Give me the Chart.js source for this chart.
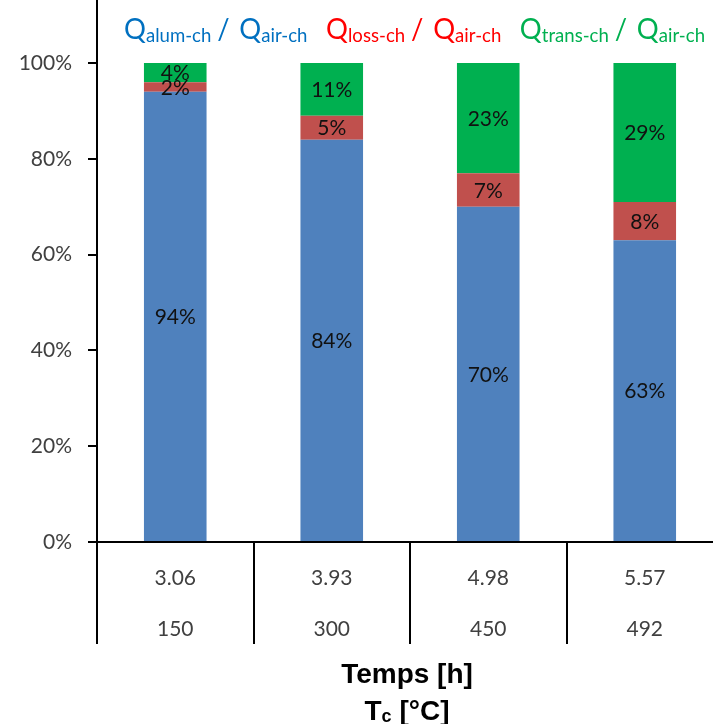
<!DOCTYPE html>
<html>
<head>
<meta charset="utf-8">
<script src="https://cdn.jsdelivr.net/npm/chart.js@4/dist/chart.umd.min.js"></script>
<style>
html, body { margin: 0; padding: 0; background: #fff; overflow: hidden; }
</style>
</head>
<body>
<!-- plot area runs a little past the right edge of the picture, as in the original -->
<canvas id="c" width="723" height="724"></canvas>
<script>
// categories (two label rows)
var tempsLabels = ['3.06', '3.93', '4.98', '5.57'];
var tcLabels = ['150', '300', '450', '492'];

// series, in %
var alumValues = [94, 84, 70, 63];
var lossValues = [2, 5, 7, 8];
var transValues = [4, 11, 23, 29];

var yTickValues = [0, 20, 40, 60, 80, 100];

var labelFont = 'Lato, "Noto Sans", sans-serif';
var titleFont = '"Liberation Sans", Arial, sans-serif';

// legend drawn by hand because of the subscripts
var legendItems = [
    {color: '#0070C0', sub: 'alum-ch'},
    {color: '#FF0000', sub: 'loss-ch'},
    {color: '#00B050', sub: 'trans-ch'}
];

var drawLegend = function(chart) {
    var ctx = chart.ctx;
    var bigFont = '28px ' + labelFont;
    var smallFont = '19px ' + labelFont;
    var parts = [];
    legendItems.forEach(function(item, i) {
        parts.push({t: 'Q', f: bigFont, c: item.color, dy: 0, gap: 0});
        parts.push({t: item.sub, f: smallFont, c: item.color, dy: 3, gap: 6});
        parts.push({t: '/', f: bigFont, c: item.color, dy: 0, gap: 10});
        parts.push({t: 'Q', f: bigFont, c: item.color, dy: 0, gap: 0});
        parts.push({t: 'air-ch', f: smallFont, c: item.color, dy: 3, gap: i < legendItems.length - 1 ? 19 : 0});
    });
    var total = 0;
    parts.forEach(function(p) {
        ctx.font = p.f;
        p.w = ctx.measureText(p.t).width;
        total += p.w + p.gap;
    });
    // squeeze to the width the legend takes in the original
    var left = 124, right = 705;
    var k = Math.min(1, (right - left) / total);
    var x = 0;
    ctx.save();
    ctx.translate((left + right) / 2 - total * k / 2, 39);
    ctx.scale(k, 1);
    ctx.textBaseline = 'alphabetic';
    ctx.textAlign = 'left';
    parts.forEach(function(p) {
        ctx.font = p.f;
        ctx.fillStyle = p.c;
        ctx.fillText(p.t, x, p.dy);
        x += p.w + p.gap;
    });
    ctx.restore();
};

var extrasPlugin = {
    id: 'extras',
    afterDatasetsDraw: function(chart) {
        var ctx = chart.ctx;
        // values inside the segments
        ctx.save();
        ctx.font = '21px ' + labelFont;
        ctx.fillStyle = '#111';
        ctx.textAlign = 'center';
        ctx.textBaseline = 'middle';
        chart.data.datasets.forEach(function(ds, di) {
            var meta = chart.getDatasetMeta(di);
            meta.data.forEach(function(bar, i) {
                var top = Math.min(bar.y, bar.base);
                var bottom = Math.max(bar.y, bar.base);
                ctx.fillText(ds.data[i] + '%', bar.x, (top + bottom) / 2 + 1);
            });
        });
        ctx.restore();
    },
    afterDraw: function(chart) {
        var ctx = chart.ctx;
        var area = chart.chartArea;
        var xs = chart.scales.x;
        ctx.save();
        ctx.strokeStyle = '#000';
        ctx.lineWidth = 2;
        // y axis line running up past 100% and down through the label rows
        ctx.beginPath();
        ctx.moveTo(area.left, 0);
        ctx.lineTo(area.left, area.bottom + 102);
        ctx.stroke();
        // separators between categories
        for (var i = 1; i < tempsLabels.length; i++) {
            var sx = Math.round((xs.getPixelForValue(i - 1) + xs.getPixelForValue(i)) / 2);
            ctx.beginPath();
            ctx.moveTo(sx, area.bottom);
            ctx.lineTo(sx, area.bottom + 102);
            ctx.stroke();
        }
        ctx.restore();

        // axis titles
        var cx = 407;
        ctx.save();
        ctx.fillStyle = '#000';
        ctx.textBaseline = 'alphabetic';
        ctx.textAlign = 'left';
        ctx.font = 'bold 28px ' + titleFont;
        var t1 = 'Temps [h]';
        var w1 = ctx.measureText(t1).width;
        ctx.fillText(t1, cx - w1 / 2, 683);
        var big = 'bold 28px ' + titleFont;
        var small = 'bold 18px ' + titleFont;
        ctx.font = big;
        var wT = ctx.measureText('T').width;
        var wRest = ctx.measureText(' [\u00B0C]').width;
        ctx.font = small;
        var wc = ctx.measureText('c').width;
        var x0 = cx - (wT + wc + wRest) / 2;
        ctx.font = big;
        ctx.fillText('T', x0, 720);
        ctx.font = small;
        ctx.fillText('c', x0 + wT, 722);
        ctx.font = big;
        ctx.fillText(' [\u00B0C]', x0 + wT + wc, 720);
        ctx.restore();

        drawLegend(chart);
    }
};

var categories = tempsLabels.map(function(t, i) { return [t, tcLabels[i]]; });

var chart = new Chart(document.getElementById('c'), {
    type: 'bar',
    data: {
        labels: categories,
        datasets: [
            {label: 'Qalum-ch / Qair-ch', data: alumValues, backgroundColor: '#4F81BD'},
            {label: 'Qloss-ch / Qair-ch', data: lossValues, backgroundColor: '#C0504D'},
            {label: 'Qtrans-ch / Qair-ch', data: transValues, backgroundColor: '#00B050'}
        ]
    },
    options: {
        responsive: false,
        animation: false,
        layout: {padding: {top: 63, bottom: 59, left: 0, right: 0}},
        datasets: {bar: {categoryPercentage: 1, barPercentage: 0.4}},
        plugins: {
            legend: {display: false},
            tooltip: {enabled: false}
        },
        scales: {
            x: {
                stacked: true,
                grid: {display: false, drawTicks: false},
                border: {display: true, color: '#000', width: 2},
                ticks: {
                    color: '#404040',
                    padding: 10,
                    maxRotation: 0,
                    font: {family: labelFont, size: 21, lineHeight: 2.45}
                }
            },
            y: {
                stacked: true,
                min: 0,
                max: 100,
                afterBuildTicks: function(scale) {
                    scale.ticks = yTickValues.map(function(v) { return {value: v}; });
                },
                afterFit: function(scale) { scale.width = 97; },
                grid: {drawOnChartArea: false, drawTicks: true, tickLength: 9, color: '#000', lineWidth: 2},
                border: {display: true, color: '#000', width: 2},
                ticks: {
                    color: '#404040',
                    padding: 16,
                    font: {family: labelFont, size: 21},
                    callback: function(v) { return v + '%'; }
                }
            }
        }
    },
    plugins: [extrasPlugin]
});
</script>
</body>
</html>
